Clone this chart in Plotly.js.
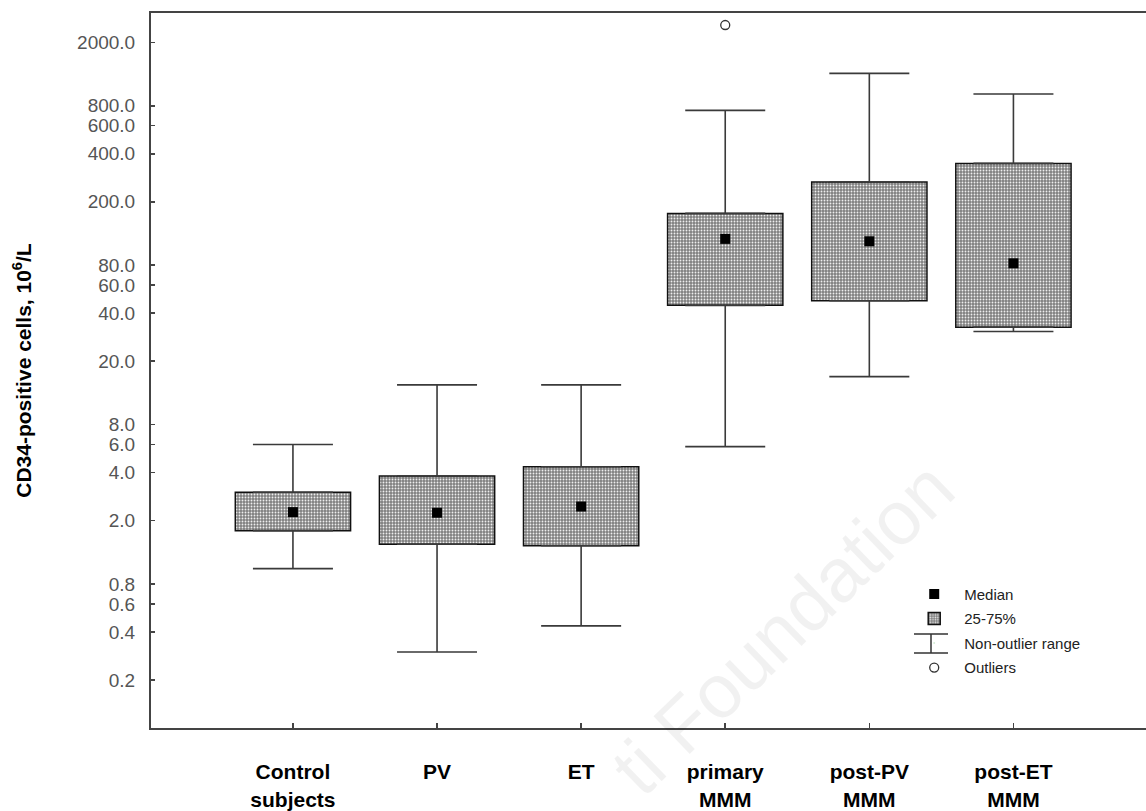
<!DOCTYPE html>
<html>
<head>
<meta charset="utf-8">
<script src="https://cdn.plot.ly/plotly-3.0.1.min.js"></script>
<style>html,body{margin:0;padding:0;background:#fff;}#chart{width:1146px;height:811px;}</style>
</head>
<body>
<div id="chart"></div>
<script>
// ---- data ----
const categories = ['Control<br>subjects', 'PV', 'ET', 'primary<br>MMM', 'post-PV<br>MMM', 'post-ET<br>MMM'];
const q1 = [1.73, 1.42, 1.39, 44.8, 47.9, 32.7];
const q3 = [3.01, 3.81, 4.35, 169, 266, 348];
const medians = [2.26, 2.24, 2.45, 117, 113, 82.2];
const whiskerLow = [1.0, 0.30, 0.437, 5.82, 16.0, 30.7];
const whiskerHigh = [6.0, 14.2, 14.2, 749, 1278, 948];
const outlierGroup = [3];
const outlierValues = [2568];
const yTickVals = [0.2, 0.4, 0.6, 0.8, 2, 4, 6, 8, 20, 40, 60, 80, 200, 400, 600, 800, 2000];
const yTickText = ['0.2', '0.4', '0.6', '0.8', '2.0', '4.0', '6.0', '8.0', '20.0', '40.0', '60.0', '80.0', '200.0', '400.0', '600.0', '800.0', '2000.0'];

const idx = categories.map((c, i) => i);
const whiskerColor = '#3a3a3a';
const FONT = '"Liberation Sans", Arial, sans-serif';
const NARROW = '"Liberation Sans Narrow", "Arial Narrow", "Liberation Sans", Arial, sans-serif';

// plot-area geometry (pixels) used to place the legend's I-beam glyph
const L = 151, T = 13, W = 995, H = 715;
const px = v => (v - L) / W;
const py = v => (T + H - v) / H;

const traces = [
  {
    type: 'scatter', mode: 'markers', name: 'Median', legendgroup: 'a',
    x: idx, y: medians,
    marker: {symbol: 'square', size: 10, color: '#000'},
    hoverinfo: 'y'
  },
  {
    type: 'bar', name: '25-75%', legendgroup: 'b',
    x: idx, base: q1, y: q3.map((v, i) => v - q1[i]),
    width: 0.8,
    marker: {
      color: '#9a9a9a',
      line: {color: '#111', width: 1.5},
      pattern: {shape: '.', fgcolor: '#eeeeee', bgcolor: '#808080', size: 3, solidity: 0.3, fillmode: 'replace'}
    },
    hoverinfo: 'skip'
  },
  {
    type: 'scatter', mode: 'markers', name: 'Non-outlier range', legendgroup: 'c',
    x: idx, y: q3,
    marker: {size: 1, opacity: 0},
    error_y: {type: 'data', symmetric: false, array: whiskerHigh.map((v, i) => v - q3[i]),
              arrayminus: q3.map(() => 0), color: whiskerColor, thickness: 1.6, width: 40},
    hoverinfo: 'skip'
  },
  {
    type: 'scatter', mode: 'markers', name: 'low', showlegend: false,
    x: idx, y: q1,
    marker: {size: 1, opacity: 0},
    error_y: {type: 'data', symmetric: false, array: q1.map(() => 0),
              arrayminus: q1.map((v, i) => v - whiskerLow[i]), color: whiskerColor, thickness: 1.6, width: 40},
    hoverinfo: 'skip'
  },
  {
    type: 'scatter', mode: 'markers', name: 'Outliers', legendgroup: 'd',
    x: outlierGroup, y: outlierValues,
    marker: {symbol: 'circle-open', size: 9, color: '#333', line: {width: 1.3}},
    hoverinfo: 'y'
  }
];

const layout = {
  width: 1146, height: 811,
  margin: {l: 151, r: 0, t: 13, b: 83},
  paper_bgcolor: '#fff', plot_bgcolor: '#fff',
  font: {family: FONT, color: '#333'},
  showlegend: true,
  legend: {
    x: 0.757, y: 0.21, xanchor: 'left', yanchor: 'top',
    font: {family: FONT, size: 15, color: '#222'},
    traceorder: 'grouped', tracegroupgap: 2,
    itemwidth: 50, bgcolor: 'rgba(0,0,0,0)'
  },
  xaxis: {
    range: [-0.985, 5.92],
    tickmode: 'array', tickvals: idx, ticktext: categories,
    ticks: 'inside', ticklen: 5, tickwidth: 1.5, tickcolor: '#444',
    showline: true, linecolor: '#444', linewidth: 2, mirror: true,
    showgrid: false, zeroline: false,
    tickfont: {family: NARROW, size: 21, color: '#000', weight: 'bold'},
    ticklabelstandoff: 24
  },
  yaxis: {
    type: 'log', range: [-1, 3.485],
    tickmode: 'array', tickvals: yTickVals, ticktext: yTickText,
    ticks: 'inside', ticklen: 4, tickwidth: 1.5, tickcolor: '#444',
    showline: true, linecolor: '#444', linewidth: 2,
    showgrid: false, zeroline: false,
    tickfont: {family: FONT, size: 19, color: '#555'},
    ticklabelstandoff: 10,
    title: {text: 'CD34-positive cells, 10<sup>6</sup>/L', font: {family: FONT, size: 21, color: '#000', weight: 'bold'}, standoff: 40}
  },
  shapes: [
    {type: 'path', xref: 'paper', yref: 'paper',
     path: 'M' + px(914) + ',' + py(634) + ' L' + px(948) + ',' + py(634) +
           ' M' + px(931) + ',' + py(634) + ' L' + px(931) + ',' + py(653) +
           ' M' + px(914) + ',' + py(653) + ' L' + px(948) + ',' + py(653),
     line: {color: '#333', width: 1.5}}
  ],
  annotations: [
    {
      xref: 'paper', yref: 'paper', x: 0.635, y: 0.14, xanchor: 'center', yanchor: 'middle', showarrow: false,
      text: 'ti Foundation', textangle: -44,
      font: {family: FONT, size: 76, color: 'rgba(0,0,0,0.055)'}
    }
  ]
};

Plotly.newPlot('chart', traces, layout, {displayModeBar: false, staticPlot: true});
</script>
</body>
</html>
